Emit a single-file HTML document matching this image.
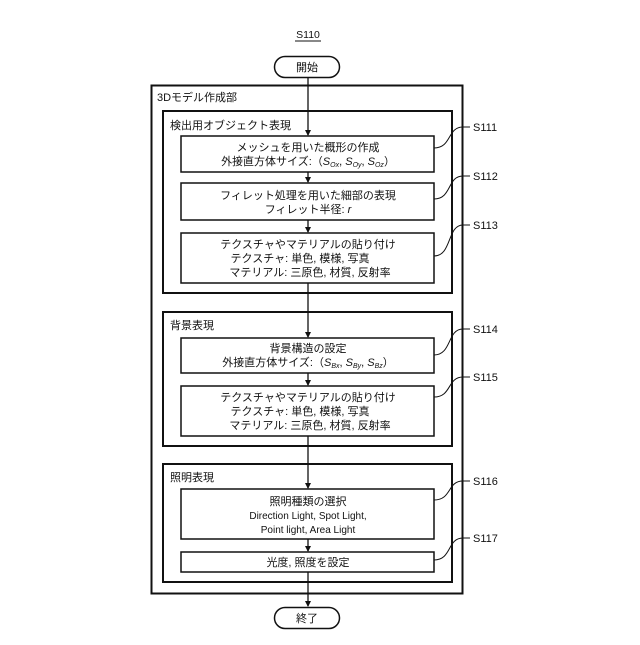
<!DOCTYPE html>
<html><head><meta charset="utf-8"><style>
body{margin:0;background:#fff}
svg text{font-family:"Liberation Sans","Noto Sans CJK JP",sans-serif;font-size:11px;fill:#111}
.it{font-style:italic}
</style></head><body>
<svg width="640" height="640" viewBox="0 0 640 640" xmlns="http://www.w3.org/2000/svg">
<defs><marker id="a" markerWidth="6" markerHeight="6" refX="5" refY="3" orient="auto" markerUnits="userSpaceOnUse"><path d="M0,0 L6,3 L0,6 z" fill="#111"/></marker></defs>
<g fill="none" stroke="#111">
<text x="308" y="38" text-anchor="middle" style="font-size:10.5px" stroke="none">S110</text>
<line x1="295" y1="41" x2="321" y2="41" stroke-width="1"/>
<rect x="274.5" y="56.5" width="65" height="21" rx="10.5" stroke-width="1.5"/>
<rect x="151.5" y="85.5" width="311" height="508" stroke-width="2"/>
<rect x="163" y="111" width="289" height="182" stroke-width="2"/>
<rect x="181" y="136" width="253" height="36" stroke-width="1.5"/>
<rect x="181" y="183" width="253" height="37" stroke-width="1.5"/>
<rect x="181" y="233" width="253" height="50" stroke-width="1.5"/>
<rect x="163" y="312" width="289" height="134" stroke-width="2"/>
<rect x="181" y="338" width="253" height="35" stroke-width="1.5"/>
<rect x="181" y="386" width="253" height="50" stroke-width="1.5"/>
<rect x="163" y="464" width="289" height="118" stroke-width="2"/>
<rect x="181" y="489" width="253" height="50" stroke-width="1.5"/>
<rect x="181" y="552" width="253" height="20" stroke-width="1.5"/>
<rect x="274.5" y="607.5" width="65" height="21" rx="10.5" stroke-width="1.5"/>
<g stroke-width="1.3">
<line x1="308" y1="78" x2="308" y2="135" marker-end="url(#a)"/>
<line x1="308" y1="172" x2="308" y2="182" marker-end="url(#a)"/>
<line x1="308" y1="220" x2="308" y2="232" marker-end="url(#a)"/>
<line x1="308" y1="283" x2="308" y2="337" marker-end="url(#a)"/>
<line x1="308" y1="373" x2="308" y2="385" marker-end="url(#a)"/>
<line x1="308" y1="436" x2="308" y2="488" marker-end="url(#a)"/>
<line x1="308" y1="539" x2="308" y2="551" marker-end="url(#a)"/>
<line x1="308" y1="572" x2="308" y2="606" marker-end="url(#a)"/>
</g>
<g stroke-width="1">
<path d="M434,148 C452,148 447,127 463,127 L470,127"/>
<path d="M434,199 C452,199 447,176 463,176 L470,176"/>
<path d="M434,256 C452,256 447,225 463,225 L470,225"/>
<path d="M434,355 C452,355 447,329 463,329 L470,329"/>
<path d="M434,397 C452,397 447,377 463,377 L470,377"/>
<path d="M434,500 C452,500 447,481 463,481 L470,481"/>
<path d="M434,560 C452,560 447,538 463,538 L470,538"/>
</g>
</g>
<g text-anchor="start">
<text x="473" y="131">S111</text>
<text x="473" y="180">S112</text>
<text x="473" y="229">S113</text>
<text x="473" y="333">S114</text>
<text x="473" y="381">S115</text>
<text x="473" y="485">S116</text>
<text x="473" y="542">S117</text>
<text x="157" y="101">3Dモデル作成部</text>
<text x="170" y="129">検出用オブジェクト表現</text>
<text x="170" y="329">背景表現</text>
<text x="170" y="481">照明表現</text>
</g>
<g text-anchor="middle">
<text x="307" y="71">開始</text>
<text x="307" y="622">終了</text>
<text x="308" y="151">メッシュを用いた概形の作成</text>
<text x="308" y="165">外接直方体サイズ:（<tspan class="it">S</tspan><tspan class="it" style="font-size:7px" dy="2">Ox</tspan><tspan dy="-2">, </tspan><tspan class="it">S</tspan><tspan class="it" style="font-size:7px" dy="2">Oy</tspan><tspan dy="-2">, </tspan><tspan class="it">S</tspan><tspan class="it" style="font-size:7px" dy="2">Oz</tspan><tspan dy="-2">）</tspan></text>
<text x="308" y="199">フィレット処理を用いた細部の表現</text>
<text x="308" y="213">フィレット半径: <tspan class="it">r</tspan></text>
<text x="308" y="248">テクスチャやマテリアルの貼り付け</text>
<text x="300" y="262">テクスチャ: 単色, 模様, 写真</text>
<text x="310" y="276">マテリアル: 三原色, 材質, 反射率</text>
<text x="308" y="352">背景構造の設定</text>
<text x="308" y="366">外接直方体サイズ:（<tspan class="it">S</tspan><tspan class="it" style="font-size:7px" dy="2">Bx</tspan><tspan dy="-2">, </tspan><tspan class="it">S</tspan><tspan class="it" style="font-size:7px" dy="2">By</tspan><tspan dy="-2">, </tspan><tspan class="it">S</tspan><tspan class="it" style="font-size:7px" dy="2">Bz</tspan><tspan dy="-2">）</tspan></text>
<text x="308" y="401">テクスチャやマテリアルの貼り付け</text>
<text x="300" y="415">テクスチャ: 単色, 模様, 写真</text>
<text x="310" y="429">マテリアル: 三原色, 材質, 反射率</text>
<text x="308" y="505">照明種類の選択</text>
<text x="308" y="519" style="font-size:10px">Direction Light, Spot Light,</text>
<text x="308" y="533" style="font-size:10px">Point light, Area Light</text>
<text x="308" y="566">光度, 照度を設定</text>
</g>
</svg>
</body></html>
